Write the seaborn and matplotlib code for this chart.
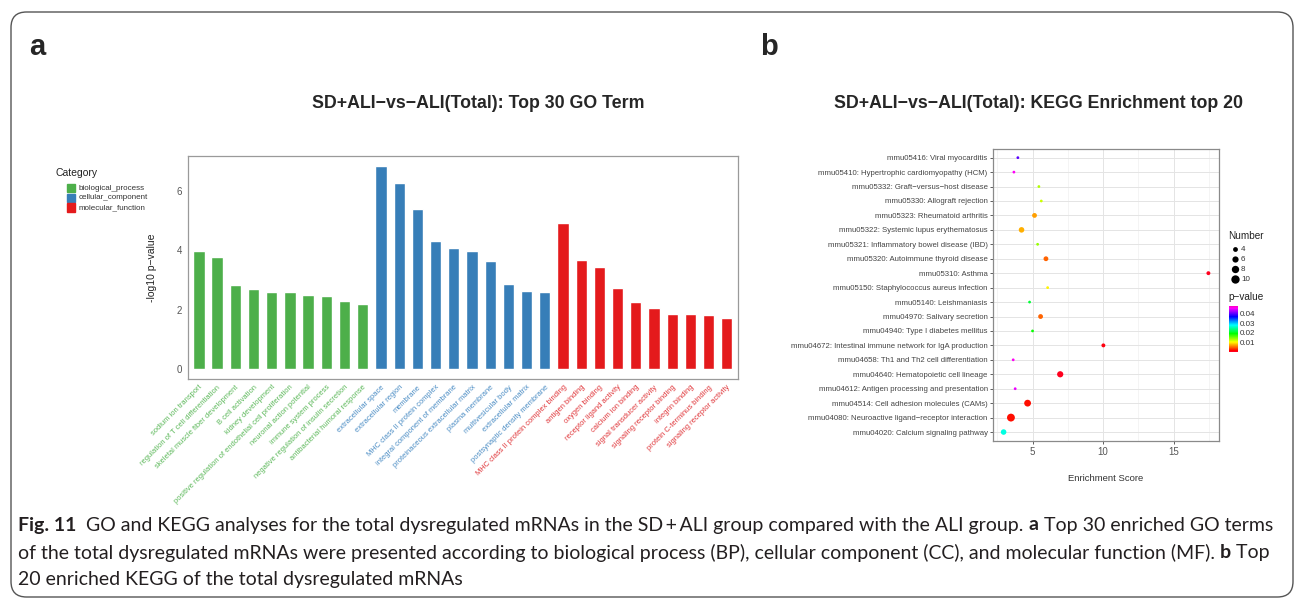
import matplotlib
matplotlib.use("Agg")
import matplotlib.pyplot as plt
import matplotlib as mpl
from matplotlib.patches import FancyBboxPatch
import numpy as np
import pandas as pd
import seaborn as sns

# ---------------- GO data ----------------
bp_terms = ["sodium ion transport", "regulation of T cell differentiation",
            "skeletal muscle fiber development", "B cell activation",
            "kidney development",
            "positive regulation of endothelial cell proliferation",
            "neuronal action potential", "immune system process",
            "negative regulation of insulin secretion",
            "antibacterial humoral response"]
bp_values = [3.97, 3.78, 2.82, 2.69, 2.60, 2.60, 2.49, 2.44, 2.30, 2.18]

cc_terms = ["extracellular space", "extracellular region", "membrane",
            "MHC class II protein complex", "integral component of membrane",
            "proteinaceous extracellular matrix", "plasma membrane",
            "multivesicular body", "extracellular matrix",
            "postsynaptic density membrane"]
cc_values = [6.83, 6.25, 5.40, 4.31, 4.08, 3.98, 3.62, 2.87, 2.62, 2.60]

mf_terms = ["MHC class II protein complex binding", "antigen binding",
            "oxygen binding", "receptor ligand activity", "calcium ion binding",
            "signal transducer activity", "signaling receptor binding",
            "integrin binding", "protein C-terminus binding",
            "signaling receptor activity"]
mf_values = [4.92, 3.68, 3.42, 2.73, 2.24, 2.06, 1.86, 1.84, 1.82, 1.73]

categories = ["biological_process", "cellular_component", "molecular_function"]
category_colors = ["#4DAF4A", "#377EB8", "#E41A1C"]

# ---------------- KEGG data (top to bottom) ----------------
kegg_terms = ["mmu05416: Viral myocarditis",
              "mmu05410: Hypertrophic cardiomyopathy (HCM)",
              "mmu05332: Graft\u2212versus\u2212host disease",
              "mmu05330: Allograft rejection",
              "mmu05323: Rheumatoid arthritis",
              "mmu05322: Systemic lupus erythematosus",
              "mmu05321: Inflammatory bowel disease (IBD)",
              "mmu05320: Autoimmune thyroid disease",
              "mmu05310: Asthma",
              "mmu05150: Staphylococcus aureus infection",
              "mmu05140: Leishmaniasis",
              "mmu04970: Salivary secretion",
              "mmu04940: Type I diabetes mellitus",
              "mmu04672: Intestinal immune network for IgA production",
              "mmu04658: Th1 and Th2 cell differentiation",
              "mmu04640: Hematopoietic cell lineage",
              "mmu04612: Antigen processing and presentation",
              "mmu04514: Cell adhesion molecules (CAMs)",
              "mmu04080: Neuroactive ligand\u2212receptor interaction",
              "mmu04020: Calcium signaling pathway"]
kegg_score = [3.96, 3.68, 5.45, 5.62, 5.14, 4.22, 5.36, 5.95, 17.46, 6.07,
              4.79, 5.57, 5.00, 10.02, 3.63, 6.96, 3.77, 4.65, 3.47, 2.95]
kegg_number = [2, 2, 2, 2, 4, 5, 2, 4, 3, 2,
               2, 4, 2, 3, 2, 6, 2, 7, 9, 5]
kegg_pvalue = [0.040, 0.046, 0.013, 0.012, 0.007, 0.0075, 0.014, 0.005, 0.0005, 0.010,
               0.021, 0.005, 0.019, 0.001, 0.046, 0.0005, 0.045, 0.002, 0.002, 0.027]
number_breaks = [4, 6, 8, 10]
pvalue_ticks = [0.01, 0.02, 0.03, 0.04]

caption_lines = [
    [("Fig. 11", True),
     ("  GO and KEGG analyses for the total dysregulated mRNAs in the SD\u2009+\u2009ALI group compared with the ALI group. ", False),
     ("a", True), (" Top 30 enriched GO terms", False)],
    [("of the total dysregulated mRNAs were presented according to biological process (BP), cellular component (CC), and molecular function (MF). ", False),
     ("b", True), (" Top", False)],
    [("20 enriched KEGG of the total dysregulated mRNAs", False)],
]

# ---------------- figure ----------------
sns.set_theme(style="white")
plt.rcParams["font.family"] = ["Liberation Sans", "DejaVu Sans"]
W, H = 1295, 600
fig = plt.figure(figsize=(W / 100, H / 100), dpi=100)
fig.patch.set_facecolor("white")

def fx(px):
    return px / W

def fy(py):
    return 1 - py / H

# outer frame
frame = FancyBboxPatch((fx(11), fy(597)), fx(1282), (597 - 12) / H,
                       boxstyle="round,pad=0,rounding_size=0.012",
                       transform=fig.transFigure, fill=False,
                       edgecolor="#555555", linewidth=1.0, mutation_aspect=W / H)
fig.patches.append(frame)

fig.text(fx(29), fy(47), "a", fontsize=21, fontweight="bold", va="center", ha="left")
fig.text(fx(760), fy(47), "b", fontsize=21, fontweight="bold", va="center", ha="left")

# ---------------- panel a: GO bar chart ----------------
go = pd.DataFrame({
    "term": bp_terms + cc_terms + mf_terms,
    "value": bp_values + cc_values + mf_values,
    "category": [categories[0]] * len(bp_terms) + [categories[1]] * len(cc_terms)
                + [categories[2]] * len(mf_terms),
})
ax1 = fig.add_axes([fx(188), fy(379), fx(737.7 - 188), (379 - 156) / H])
sns.barplot(data=go, x="term", y="value", hue="category", hue_order=categories,
            palette=category_colors, dodge=False, width=0.62, saturation=1,
            legend=False, ax=ax1)
ax1.set_xlim(-0.6, len(go) - 0.4)
ax1.set_ylim(-0.34, 7.17)
ax1.set_yticks([0, 2, 4, 6])
ax1.set_xlabel("")
ax1.set_ylabel("-log10 p\u2212value", fontsize=7.5, color="#222222", labelpad=14)
for sp in ax1.spines.values():
    sp.set_color("#9a9a9a")
    sp.set_linewidth(0.9)
ax1.tick_params(axis="y", length=2.5, width=0.6, color="#555555", labelsize=7,
                labelcolor="#555555", pad=2)
ax1.tick_params(axis="x", length=2.5, width=0.6, color="#555555", pad=1)
term_colors = dict(zip(categories, ["#5cb85a", "#4a8cc4", "#e0363a"]))
ax1.set_xticks(range(len(go)))
ax1.set_xticklabels(go["term"], rotation=45, ha="right", rotation_mode="anchor",
                    fontsize=5.4)
for lab, cat in zip(ax1.get_xticklabels(), go["category"]):
    lab.set_color(term_colors[cat])

fig.text(fx(478), fy(103), "SD+ALI\u2212vs\u2212ALI(Total): Top 30 GO Term",
         fontsize=12.8, fontweight="bold", ha="center", va="center")

# category legend
fig.text(fx(55), fy(173), "Category", fontsize=7.5, color="#222222", va="center")
for i, (cat, col) in enumerate(zip(categories, category_colors)):
    yc = 188 + i * 9.7
    fig.patches.append(mpl.patches.Rectangle((fx(67), fy(yc + 4.2)), fx(8), 8.4 / H,
                                             transform=fig.transFigure, color=col))
    fig.text(fx(79), fy(yc), cat, fontsize=5.8, color="#333333", va="center")

# ---------------- panel b: KEGG bubble chart ----------------
kegg = pd.DataFrame({"term": kegg_terms, "score": kegg_score,
                     "number": kegg_number, "pvalue": kegg_pvalue})
ax2 = fig.add_axes([fx(993.3), fy(440.7), fx(1218.7 - 993.3), (440.7 - 149) / H])
ax2.set_facecolor("white")
pnorm = mpl.colors.Normalize(vmin=0.0, vmax=0.048)
cmap = mpl.colormaps["gist_rainbow"]
size_range = (4, 36)
size_norm = (2, 10)
sns.scatterplot(data=kegg, x="score", y="term", hue="pvalue", palette=cmap,
                hue_norm=pnorm, size="number", sizes=size_range,
                size_norm=size_norm, linewidth=0, legend=False, zorder=3, ax=ax2)
ax2.set_xlim(2.22, 18.19)
ax2.set_ylim(len(kegg) - 0.4, -0.6)
ax2.set_xticks([5, 10, 15])
ax2.set_xticks([2.5, 7.5, 12.5, 17.5], minor=True)
ax2.grid(True, which="major", color="#e4e4e4", linewidth=0.7, zorder=0)
ax2.grid(True, which="minor", axis="x", color="#f0f0f0", linewidth=0.5, zorder=0)
ax2.set_axisbelow(True)
for sp in ax2.spines.values():
    sp.set_color("#8a8a8a")
    sp.set_linewidth(0.9)
ax2.tick_params(axis="y", length=2.5, width=0.6, color="#444444", labelsize=5.6,
                labelcolor="#444444", pad=1.5, left=True)
ax2.tick_params(axis="x", length=2.5, width=0.6, color="#444444", labelsize=7,
                labelcolor="#555555", pad=2, bottom=True)
ax2.tick_params(axis="x", which="minor", length=0)
ax2.set_ylabel("")
ax2.set_xlabel("Enrichment Score", fontsize=6.8, color="#333333", labelpad=12)

fig.text(fx(1039), fy(103), "SD+ALI\u2212vs\u2212ALI(Total): KEGG Enrichment top 20",
         fontsize=12.8, fontweight="bold", ha="center", va="center")

# Number legend
fig.text(fx(1228), fy(236), "Number", fontsize=7.2, color="#222222", va="center")
leg_ax = fig.add_axes([fx(1226), fy(284), fx(30), 40 / H])
leg_ax.set_axis_off()
leg_ax.set_xlim(0, 1)
leg_ax.set_ylim(3, 11)
area = lambda n: size_range[0] + (size_range[1] - size_range[0]) * \
    (n - size_norm[0]) / (size_norm[1] - size_norm[0])
for n in number_breaks:
    yv = 14 - n
    leg_ax.scatter([0.3], [yv], s=area(n), color="black", linewidths=0)
    leg_ax.text(0.5, yv, str(n), fontsize=5.8, color="#333333", va="center")

# p-value colourbar
fig.text(fx(1228), fy(297), "p\u2212value", fontsize=7.2, color="#222222", va="center")
cax = fig.add_axes([fx(1228.5), fy(352), fx(9.5), (352 - 306) / H])
sm = mpl.cm.ScalarMappable(norm=pnorm, cmap=cmap)
cb = fig.colorbar(sm, cax=cax, ticks=pvalue_ticks)
cb.outline.set_visible(False)
cb.ax.tick_params(length=2, width=0.5, color="white", labelsize=5.8,
                  labelcolor="#333333", pad=1.5, direction="in")
cb.ax.set_yticklabels([f"{t:.2f}" for t in pvalue_ticks])

# ---------------- caption ----------------
renderer = fig.canvas.get_renderer()
cap_font = ["Lato", "DejaVu Sans"]

def draw_line(runs, x0, y, size, draw=True):
    x = x0
    objs = []
    for txt, bold in runs:
        t = fig.text(fx(x), fy(y), txt, fontsize=size, family=cap_font,
                     fontweight="bold" if bold else "normal", color="#231f20",
                     va="center", ha="left")
        bb = t.get_window_extent(renderer=renderer)
        x += bb.width
        objs.append(t)
    if not draw:
        for t in objs:
            t.remove()
    return x - x0

base = 11.5
w0 = draw_line(caption_lines[0], 18, 525, base, draw=False)
cap_size = base * (1275 - 18) / w0
for runs, yy in zip(caption_lines, [525, 552.5, 580]):
    draw_line(runs, 18, yy, cap_size)

fig.savefig("out.png", dpi=100, facecolor="white")
